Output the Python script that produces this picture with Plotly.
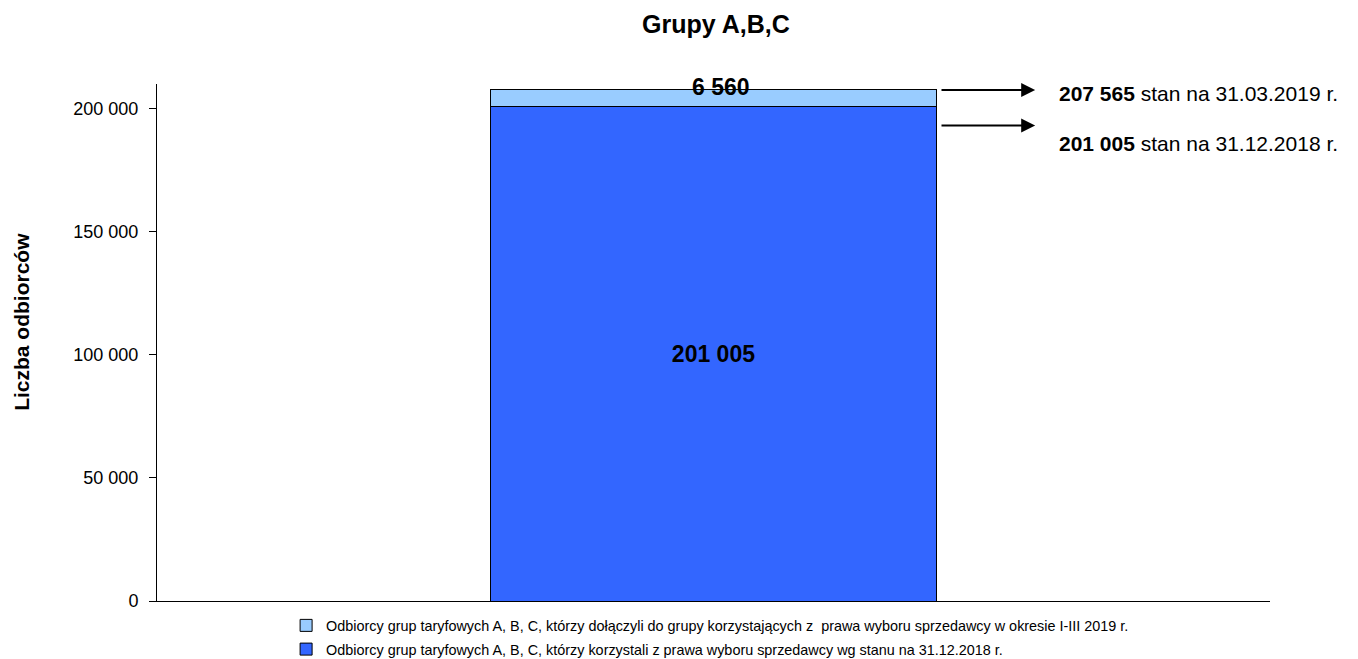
import plotly.graph_objects as go

categories = ["Grupy A,B,C"]
base_2018 = [201005]
added_2019 = [6560]
total_2019 = [207565]
name_base = "Odbiorcy grup taryfowych A, B, C, którzy korzystali z prawa wyboru sprzedawcy wg stanu na 31.12.2018 r."
name_added = "Odbiorcy grup taryfowych A, B, C, którzy dołączyli do grupy korzystających z  prawa wyboru sprzedawcy w okresie I-III 2019 r."
tick_vals = [0, 50000, 100000, 150000, 200000]
tick_text = ["0", "50 000", "100 000", "150 000", "200 000"]
date_labels = ["stan na 31.03.2019 r.", "stan na 31.12.2018 r."]

def fmt(v):
    return f"{v:,}".replace(",", " ")

FONT = "Liberation Sans, Arial, sans-serif"

fig = go.Figure()
fig.add_trace(go.Bar(
    x=categories, y=base_2018, name=name_base, legendgroup="a", legendrank=2,
    marker=dict(color="#3366FF", line=dict(color="#000000", width=1)),
    width=0.4,
    text=[fmt(v) for v in base_2018], textposition="inside", insidetextanchor="middle",
    textfont=dict(family=FONT, size=23, color="#000000", weight="bold"),
))
fig.add_trace(go.Bar(
    x=categories, y=added_2019, name=name_added, legendgroup="b", legendrank=1,
    marker=dict(color="#99CCFF", line=dict(color="#000000", width=1)),
    width=0.4,
))

# label of the small segment
fig.add_annotation(x=categories[0], y=total_2019[0], text=f"<b>{fmt(added_2019[0])}</b>",
                   showarrow=False, yanchor="middle", yshift=3, xshift=7,
                   font=dict(family=FONT, size=23, color="#000000"))

# arrows + labels
arrow_y = [total_2019[0], 193100]
label_y = [206085, 185800]
values = [total_2019[0], base_2018[0]]
for ay_, ly, v, dl in zip(arrow_y, label_y, values, date_labels):
    fig.add_annotation(x=0.289, y=ay_, ax=0.2035, ay=ay_, xref="x", yref="y",
                       axref="x", ayref="y", showarrow=True, arrowhead=2,
                       arrowsize=1.4, arrowwidth=2, arrowcolor="#000000", text="")
    fig.add_annotation(x=0.3086, y=ly, xref="x", yref="y", xanchor="left",
                       showarrow=False, text=f"<b>{fmt(v)}</b> {dl}",
                       font=dict(family=FONT, size=21, color="#000000"))

# y-axis title
fig.add_annotation(x=0, y=0.54, xref="paper", yref="paper", xshift=-135,
                   xanchor="center", yanchor="middle",
                   textangle=-90, showarrow=False, text="<b>Liczba odbiorców</b>",
                   font=dict(family=FONT, size=21, color="#000000"))

fig.update_layout(
    width=1350, height=651,
    barmode="stack",
    separators=", ",
    paper_bgcolor="white", plot_bgcolor="white",
    margin=dict(l=149, r=88, t=76, b=58),
    title=dict(text="<b>Grupy A,B,C</b>", x=0.5244, xref="container", xanchor="center",
               y=0.975, yref="container", yanchor="middle",
               font=dict(family=FONT, size=25, color="#000000")),
    font=dict(family=FONT, color="#000000"),
    showlegend=True,
    legend=dict(orientation="v", x=0.116, y=0.076, xanchor="left", yanchor="top",
                yref="container",
                traceorder="grouped", tracegroupgap=2,
                font=dict(family=FONT, size=14.4, color="#000000"),
                itemwidth=30, bgcolor="rgba(0,0,0,0)"),
)
fig.update_xaxes(range=[-0.5, 0.5], showticklabels=False, showline=True, linecolor="#000000",
                 linewidth=1, showgrid=False, ticks="", automargin=False)
fig.update_yaxes(range=[0, 210000], tickvals=tick_vals, ticktext=tick_text,
                 showline=True, linecolor="#000000", linewidth=1, ticks="outside",
                 ticklen=7, tickcolor="#000000", showgrid=False, zeroline=False,
                 ticklabelstandoff=7, automargin=False,
                 tickfont=dict(family=FONT, size=18, color="#000000"))

fig.write_html("out.html")
